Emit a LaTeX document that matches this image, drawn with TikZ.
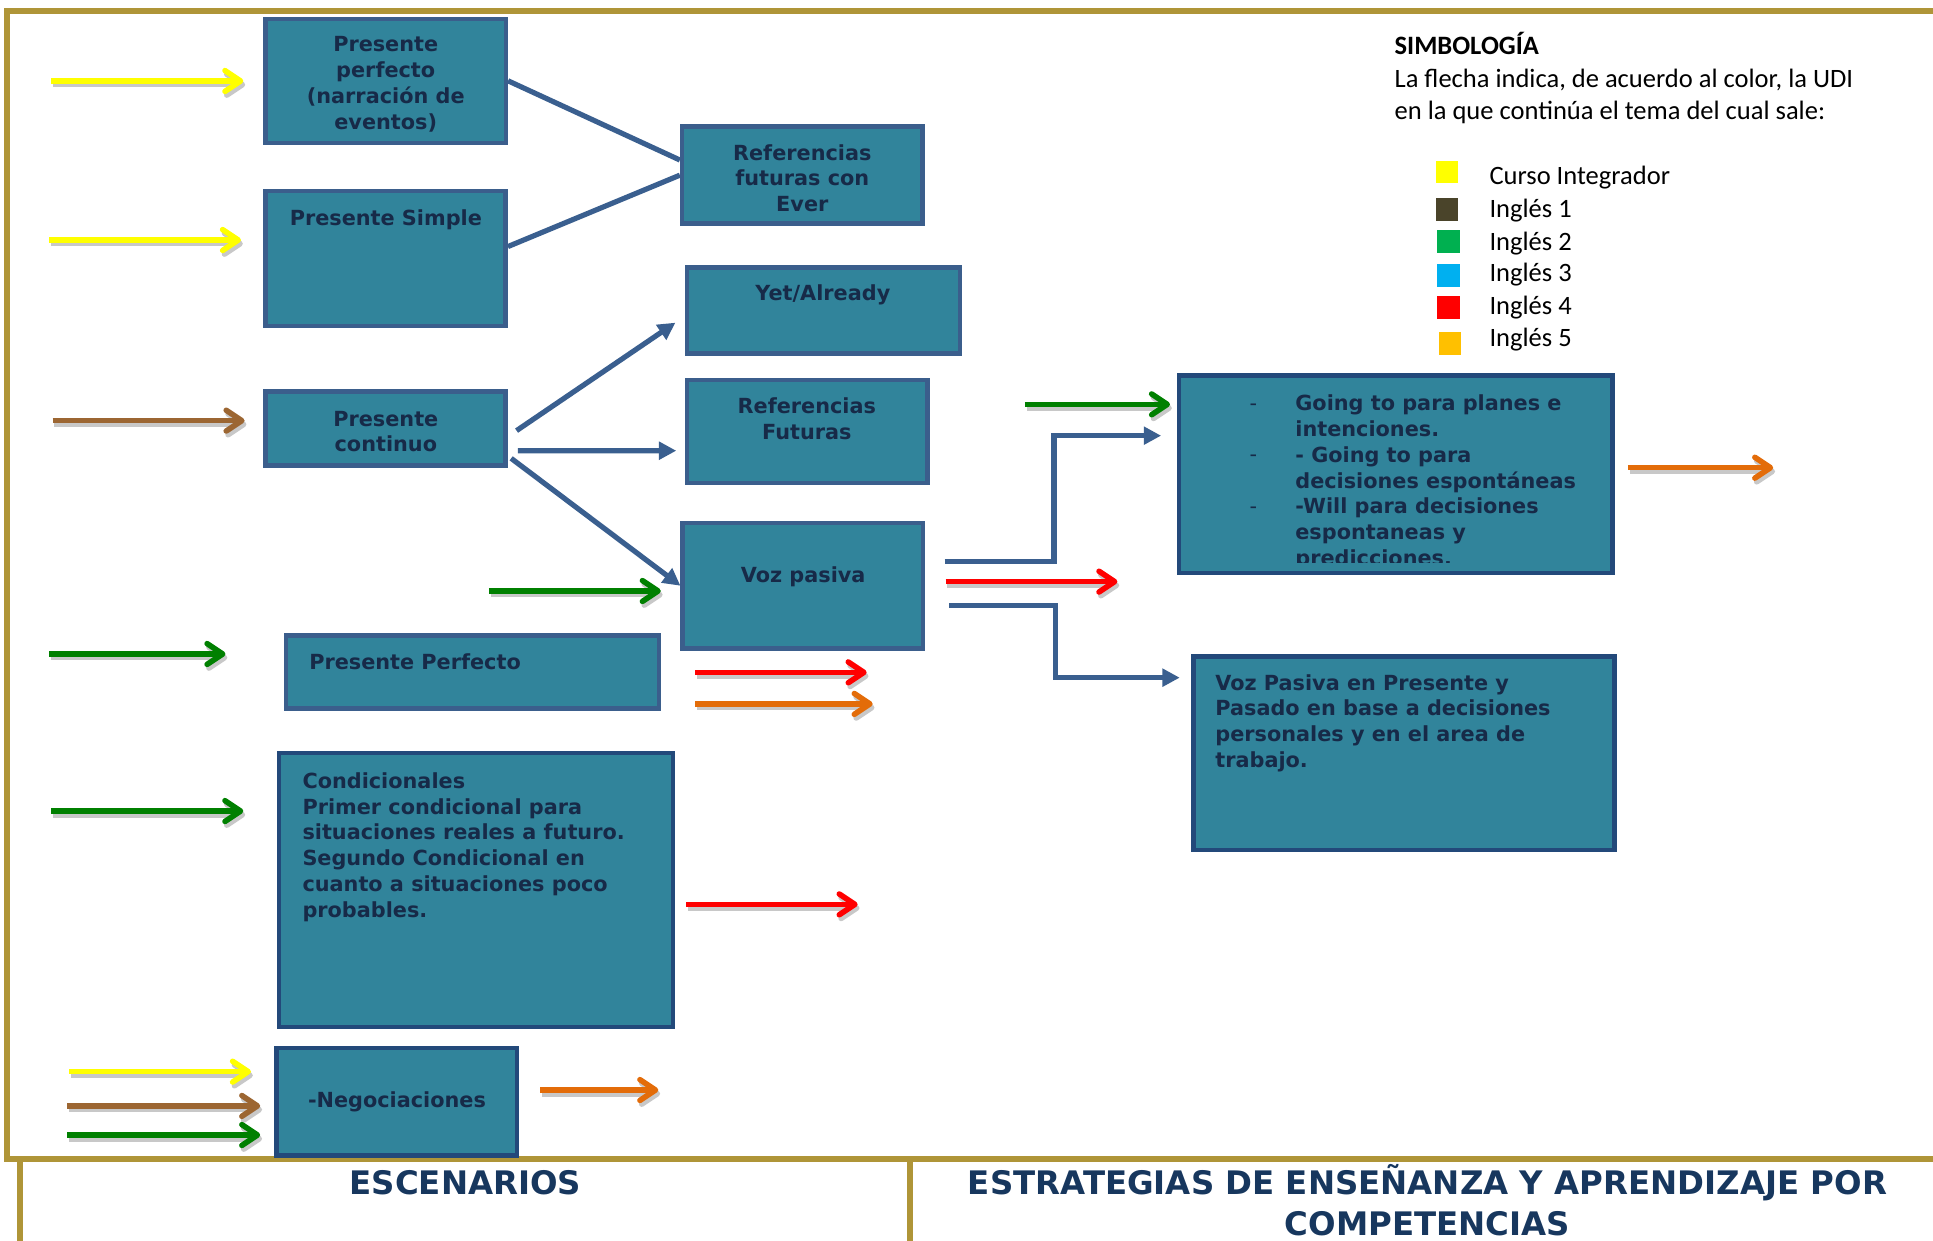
\documentclass[tikz,border=0pt]{standalone}
\usepackage{fontspec}
\setmainfont{DejaVu Sans}
\newfontfamily\legfont{Carlito}
\usetikzlibrary{arrows.meta}
\definecolor{gold}{HTML}{AF9538}
\definecolor{boxfill}{HTML}{31849B}
\definecolor{boxline}{HTML}{3B5E8C}
\definecolor{boxlinedk}{HTML}{23497A}
\definecolor{txtnavy}{HTML}{172A48}
\definecolor{titlenavy}{HTML}{17375E}
\definecolor{connblue}{HTML}{3A5F8F}
\definecolor{ylw}{HTML}{FFFF00}
\definecolor{brn}{HTML}{9C6632}
\definecolor{grn}{HTML}{008000}
\definecolor{rd}{HTML}{FF0000}
\definecolor{orng}{HTML}{E36C09}
\definecolor{shad}{HTML}{C8C8C8}
\definecolor{lgolive}{HTML}{4A442A}
\definecolor{lggreen}{HTML}{00B050}
\definecolor{lgcyan}{HTML}{00B0F0}
\definecolor{lgorange}{HTML}{FFC000}
\newcommand\shadarrow[3]{%
  \draw[colarrow,shad,transform canvas={shift={(1.5,3)}}] (#2) -- (#3);
  \draw[colarrow,#1] (#2) -- (#3);}
\begin{document}
\begin{tikzpicture}[x=0.025cm,y=-0.025cm,
  gbox/.style={rectangle, draw=boxline, fill=boxfill, line width=2.6pt, inner sep=0pt},
  dbox/.style={gbox, draw=boxlinedk},
  sz/.style 2 args={minimum width=#1*0.025cm, minimum height=#2*0.025cm},
  btxt/.style={font=\fontsize{12}{14.9}\selectfont\bfseries, text=txtnavy, inner sep=0pt},
  dashtxt/.style={font=\fontsize{12}{14.9}\selectfont, text=txtnavy, inner sep=0pt, anchor=base},
  colarrow/.style={line width=3.2pt, -{Straight Barb[length=9pt,width=12pt,round]}},
  connline/.style={draw=connblue, line width=3pt},
  connarrow/.style={connline, -{Triangle[length=10pt,width=10pt]}},
  legtxt/.style={font=\legfont\fontsize{15.3}{18}\selectfont, inner sep=0pt, anchor=base west},
  titletxt/.style={font=\fontsize{18.7}{27.5}\selectfont\bfseries, text=titlenavy, inner sep=0pt, anchor=base},
  frameline/.style={draw=gold, line width=3.2pt}
]
\useasboundingbox (0,0) rectangle (1568,1006);

% frame
\draw[frameline] (1568,9.1) -- (5.8,9.1) -- (5.8,940) -- (1568,940);
\draw[frameline] (16.4,940) -- (16.4,1010);
\draw[frameline] (738,940) -- (738,1010);

% boxes
\node[gbox, sz={194.8}{100.5}] (pp) at (312.9,65.55) {};
\node[gbox, sz={194.7}{109.4}] (ps) at (312.85,209.8) {};
\node[gbox, sz={194.9}{78.8}] (ever) at (650.75,142.1) {};
\node[gbox, sz={221.6}{69.9}] (yet) at (668.1,251.75) {};
\node[gbox, sz={194.7}{60}] (pc) at (312.85,347.6) {};
\node[gbox, sz={194.9}{83.4}] (rf) at (654.75,349.9) {};
\node[gbox, sz={195.1}{102.1}] (vp) at (651.35,475.15) {};
\node[gbox, sz={302.4}{59.2}] (pperf) at (383.3,545.1) {};
\node[dbox, sz={319.6}{222.4}] (cond) at (386.1,722) {};
\node[dbox, sz={195.1}{87.2}] (neg) at (321.85,893.6) {};
\node[dbox, sz={351.9}{160}] (going) at (1132.25,384.6) {};
\node[dbox, sz={341.2}{157}] (vpb) at (1138.9,611.1) {};

% box texts
\node[btxt, align=center, anchor=north] (pptx) at (312.9,29.5) {Presente\\perfecto\\(narración de\\eventos)};
\node[btxt, anchor=base] (pstx) at (313,183.3) {Presente Simple};
\node[btxt, align=center, anchor=north] (evertx) at (650.8,116.8) {Referencias\\futuras con\\Ever};
\node[btxt, anchor=base] (yettx) at (667.5,243.5) {Yet/Already};
\node[btxt, align=center, anchor=north] (pctx) at (313,333) {Presente\\continuo};
\node[btxt, align=center, anchor=north] (rftx) at (654.5,322.4) {Referencias\\Futuras};
\node[btxt, anchor=base] (vptx) at (651.5,472.7) {Voz pasiva};
\node[btxt, anchor=base west] (pperftx) at (250.6,543) {Presente Perfecto};
\node[btxt, align=left, anchor=north west] (condtx) at (245.1,626.3) {Condicionales\\Primer condicional para\\situaciones reales a futuro.\\Segundo Condicional en\\cuanto a situaciones poco\\probables.};
\node[btxt, anchor=base] (negtx) at (322,898.5) {-Negociaciones};
\begin{scope}
\clip (954.5,302.8) rectangle (1310,456.5);
\node[btxt, align=left, anchor=north west] (goingtx) at (1050.5,320) {Going to para planes e\\intenciones.\\- Going to para\\decisiones espontáneas\\-Will para decisiones\\espontaneas y\\predicciones.};
\end{scope}
\node[dashtxt] (dsh1) at (1016.7,332.8) {-};
\node[dashtxt] (dsh2) at (1016.7,374.7) {-};
\node[dashtxt] (dsh3) at (1016.7,416.6) {-};
\node[btxt, align=left, anchor=north west] (vpbtx) at (985.6,546.7) {Voz Pasiva en Presente y\\Pasado en base a decisiones\\personales y en el area de\\trabajo.};

% blue connectors
\draw[connline] (pp.east) -- ([shift={(0,-12.3)}]ever.west);
\draw[connline] ([shift={(0,-9.8)}]ps.east) -- (ever.west);
\draw[connarrow] ([shift={(7,1.7)}]pc.east) -- ([shift={(-7.6,10)}]yet.west);
\draw[connarrow] ([shift={(8,18)}]pc.east) -- ([shift={(-6.9,15.7)}]rf.west);
\draw[connarrow] ([shift={(2.6,24.2)}]pc.east) -- (vp.west);
\coordinate (upx) at (855,400);
\coordinate (dnx) at (856.1,520);
\draw[connarrow] ([shift={(15.6,-19.55)}]vp.east) -| (upx) |- ([shift={(-12.6,-31.2)}]going.west);
\draw[connarrow] ([shift={(19.2,16.15)}]vp.east) -| (dnx) |- ([shift={(-9.5,-61.4)}]vpb.west);

% coloured arrows
\coordinate (y1s) at (41.6,65.7);   \coordinate (y1e) at (197.4,65.7);
\coordinate (y2s) at (39.8,194.7);  \coordinate (y2e) at (195.5,194.7);
\coordinate (b1s) at (42.7,341.2);  \coordinate (b1e) at (198.4,341.2);
\coordinate (g1s) at (396.5,479.4); \coordinate (g1e) at (536,479.4);
\coordinate (g2s) at (39.8,530.5);  \coordinate (g2e) at (182.9,530.5);
\coordinate (r1s) at (563.8,545.4); \coordinate (r1e) at (703,545.4);
\coordinate (o1s) at (563.8,571);   \coordinate (o1e) at (707.9,571);
\coordinate (g3s) at (41.6,657.9);  \coordinate (g3e) at (197.4,657.9);
\coordinate (r2s) at (556.5,733.6); \coordinate (r2e) at (695.7,733.6);
\coordinate (y3s) at (56.1,869.3);  \coordinate (y3e) at (203.6,869.3);
\coordinate (b2s) at (54.6,897.1);  \coordinate (b2e) at (211.1,897.1);
\coordinate (g4s) at (54.6,920.7);  \coordinate (g4e) at (211.1,920.7);
\coordinate (o2s) at (438.1,884.2); \coordinate (o2e) at (534,884.2);
\coordinate (g5s) at (831.4,328);   \coordinate (g5e) at (949.1,328);
\coordinate (r3s) at (767,471.8);   \coordinate (r3e) at (906.4,471.8);
\coordinate (o3s) at (1320.4,379.4);\coordinate (o3e) at (1438.4,379.4);
\shadarrow{ylw}{y1s}{y1e}
\shadarrow{ylw}{y2s}{y2e}
\shadarrow{brn}{b1s}{b1e}
\shadarrow{grn}{g1s}{g1e}
\shadarrow{grn}{g2s}{g2e}
\shadarrow{rd}{r1s}{r1e}
\shadarrow{orng}{o1s}{o1e}
\shadarrow{grn}{g3s}{g3e}
\shadarrow{rd}{r2s}{r2e}
\shadarrow{ylw}{y3s}{y3e}
\shadarrow{brn}{b2s}{b2e}
\shadarrow{grn}{g4s}{g4e}
\shadarrow{orng}{o2s}{o2e}
\shadarrow{grn}{g5s}{g5e}
\shadarrow{rd}{r3s}{r3e}
\shadarrow{orng}{o3s}{o3e}

% legend
\node[legtxt, font=\legfont\bfseries\fontsize{15.3}{18}\selectfont] (lgtitle) at (1131,44.6) {SIMBOLOGÍA};
\node[legtxt] (lgl1) at (1131,71) {La flecha indica, de acuerdo al color, la UDI};
\node[legtxt] (lgl2) at (1131,97) {en la que continúa el tema del cual sale:};
\fill[ylw] (1165,130.3) rectangle (1183,148.2);
\fill[lgolive] (1165,160.9) rectangle (1183,179);
\fill[lggreen] (1166,186.6) rectangle (1184,205);
\fill[lgcyan] (1166,214.1) rectangle (1184,232.5);
\fill[rd] (1166,240.1) rectangle (1184,258.5);
\fill[lgorange] (1167.2,269.3) rectangle (1185.4,287.7);
\node[legtxt] (lg0) at (1208,150) {Curso Integrador};
\node[legtxt] (lg1) at (1208,176.3) {Inglés 1};
\node[legtxt] (lg2) at (1208,202.8) {Inglés 2};
\node[legtxt] (lg3) at (1208,228.5) {Inglés 3};
\node[legtxt] (lg4) at (1208,255.5) {Inglés 4};
\node[legtxt] (lg5) at (1208,281.2) {Inglés 5};

% bottom titles
\node[titletxt] (escen) at (377.5,968.8) {ESCENARIOS};
\node[titletxt] (estrat1) at (1158,968.8) {ESTRATEGIAS DE ENSEÑANZA Y APRENDIZAJE POR};
\node[titletxt] (estrat2) at (1158,1002.5) {COMPETENCIAS};
\end{tikzpicture}
\end{document}
